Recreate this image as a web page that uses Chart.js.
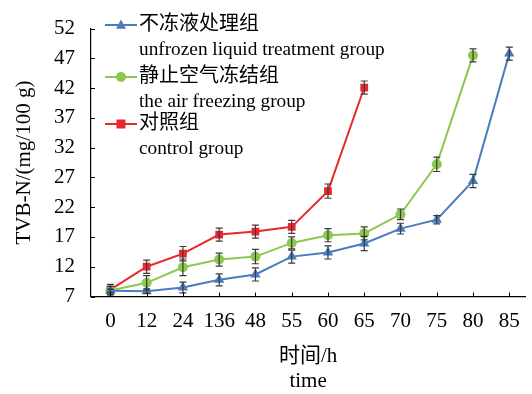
<!DOCTYPE html>
<html>
<head>
<meta charset="utf-8">
<script src="https://cdn.jsdelivr.net/npm/chart.js@4/dist/chart.umd.min.js"></script>
<style>
  html, body { margin: 0; padding: 0; background: #fff; }
  #wrap { width: 532px; height: 394px; }
</style>
</head>
<body>
<div id="wrap"><canvas id="c" width="532" height="394"></canvas></div>
<script>
// Storage time points (category labels on the x axis)
const timeLabels = ['0', '12', '24', '136', '48', '55', '60', '65', '70', '75', '80', '85'];
// Y axis tick values, TVB-N in mg/100 g
const yTicks = [7, 12, 17, 22, 27, 32, 37, 42, 47, 52];

// Anti-freeze liquid treatment
const unfrozenValues = [7.95, 7.9, 8.5, 9.8, 10.7, 13.7, 14.4, 15.9, 18.4, 19.9, 26.4, 47.8];
const unfrozenErrors = [0.3, 0.4, 0.9, 1.0, 1.1, 1.1, 1.1, 1.2, 0.9, 0.7, 1.1, 1.1];
// Still-air freezing
const airValues = [8.0, 9.3, 11.9, 13.2, 13.7, 16.0, 17.3, 17.6, 20.8, 29.2, 47.5];
const airErrors = [0.7, 1.2, 1.4, 1.1, 1.2, 1.0, 1.1, 1.1, 0.9, 1.2, 1.1];
// Control
const controlValues = [8.15, 12.0, 14.2, 17.4, 17.9, 18.7, 24.7, 42.1];
const controlErrors = [0.9, 1.1, 1.2, 1.1, 1.1, 1.1, 1.2, 1.1];

const legendCn = ['不冻液处理组', '静止空气冻结组', '对照组'];
const legendEn = ['unfrozen liquid treatment group', 'the air freezing group', 'control group'];

const BLUE = '#4a7cbd';
const GREEN = '#8cc850';
const RED = '#e8282e';
const FONT = "'Liberation Serif', 'Noto Sans CJK SC', serif";

const toPoints = vals => vals.map((v, i) => ({ x: i, y: v }));

function drawMarker(ctx, style, x, y, r, color) {
  ctx.save();
  ctx.fillStyle = color;
  ctx.beginPath();
  if (style === 'triangle') {
    ctx.moveTo(x, y - r * 1.1);
    ctx.lineTo(x + r, y + r * 0.75);
    ctx.lineTo(x - r, y + r * 0.75);
    ctx.closePath();
  } else if (style === 'rect') {
    ctx.rect(x - r * 0.9, y - r * 0.9, r * 1.8, r * 1.8);
  } else {
    ctx.arc(x, y, r, 0, Math.PI * 2);
  }
  ctx.fill();
  ctx.restore();
}

// Vertical error bars with caps, placed through the chart scales
const errorBars = {
  id: 'errorBars',
  afterDatasetsDraw(chart) {
    const { ctx, scales: { x, y } } = chart;
    ctx.save();
    ctx.strokeStyle = '#3a3a3a';
    ctx.lineWidth = 1.2;
    chart.data.datasets.forEach(ds => {
      ds.errors.forEach((e, i) => {
        const v = ds.data[i].y;
        const px = x.getPixelForValue(i);
        const top = y.getPixelForValue(v + e);
        const bot = y.getPixelForValue(v - e);
        ctx.beginPath();
        ctx.moveTo(px, top); ctx.lineTo(px, bot);
        ctx.moveTo(px - 3.5, top); ctx.lineTo(px + 3.5, top);
        ctx.moveTo(px - 3.5, bot); ctx.lineTo(px + 3.5, bot);
        ctx.stroke();
      });
    });
    ctx.restore();
  }
};

// Short tick marks pointing into the plot area
const innerTicks = {
  id: 'innerTicks',
  afterDraw(chart) {
    const { ctx, scales: { x, y } } = chart;
    ctx.save();
    ctx.strokeStyle = '#000';
    ctx.lineWidth = 1;
    timeLabels.forEach((_, i) => {
      const px = Math.round(x.getPixelForValue(i)) + 0.5;
      ctx.beginPath();
      ctx.moveTo(px, y.bottom);
      ctx.lineTo(px, y.bottom - 4);
      ctx.stroke();
    });
    yTicks.forEach(v => {
      const py = Math.round(y.getPixelForValue(v)) + 0.5;
      ctx.beginPath();
      ctx.moveTo(x.left, py);
      ctx.lineTo(x.left + 4, py);
      ctx.stroke();
    });
    ctx.restore();
  }
};

// Two-line legend (Chinese name with English name below)
const bilingualLegend = {
  id: 'bilingualLegend',
  afterDraw(chart) {
    const { ctx } = chart;
    const x0 = 105, x1 = 137, tx = 139;
    const rows = [25, 77, 124];
    ctx.save();
    ctx.textBaseline = 'middle';
    ctx.textAlign = 'left';
    ctx.fillStyle = '#000';
    chart.data.datasets.forEach((ds, k) => {
      const yy = rows[k];
      ctx.strokeStyle = ds.borderColor;
      ctx.lineWidth = 2;
      ctx.beginPath();
      ctx.moveTo(x0, yy); ctx.lineTo(x1, yy);
      ctx.stroke();
      drawMarker(ctx, ds.pointStyle, (x0 + x1) / 2, yy, 5, ds.borderColor);
      ctx.fillStyle = '#000';
      ctx.font = "20px " + FONT;
      ctx.fillText(legendCn[k], tx, yy);
      ctx.font = "19.3px " + FONT;
      ctx.fillText(legendEn[k], tx, yy + 25);
    });
    ctx.restore();
  }
};

const mkSet = (label, vals, errs, color, style, r) => ({
  label,
  data: toPoints(vals),
  errors: errs,
  borderColor: color,
  backgroundColor: color,
  borderWidth: 2,
  pointStyle: style,
  pointRadius: r,
  pointBorderWidth: 0,
  tension: 0,
  fill: false
});

new Chart(document.getElementById('c'), {
  type: 'line',
  data: {
    datasets: [
      mkSet(legendCn[0], unfrozenValues, unfrozenErrors, BLUE, 'triangle', 6),
      mkSet(legendCn[1], airValues, airErrors, GREEN, 'circle', 5),
      mkSet(legendCn[2], controlValues, controlErrors, RED, 'rect', 5.5)
    ]
  },
  options: {
    responsive: false,
    animation: false,
    devicePixelRatio: 1,
    layout: { padding: { left: 0, right: 0, top: 15.7, bottom: 0 } },
    plugins: { legend: { display: false }, tooltip: { enabled: false } },
    scales: {
      x: {
        type: 'linear',
        min: -0.535,
        max: 11.44,
        afterBuildTicks: s => { s.ticks = timeLabels.map((_, i) => ({ value: i })); },
        ticks: {
          callback: (v, i) => timeLabels[i],
          autoSkip: false,
          maxRotation: 0,
          color: '#000',
          padding: 12,
          font: { family: FONT, size: 21 }
        },
        grid: { display: false, drawTicks: false },
        border: { display: true, color: '#000', width: 1.2 },
        title: {
          display: true,
          text: ['时间/h', 'time'],
          color: '#000',
          font: { family: FONT, size: 21, lineHeight: 1.2 },
          padding: { top: 2, bottom: 0 }
        },
        afterFit: s => { s.height = 394 - 296.5; }
      },
      y: {
        min: 7,
        max: 52,
        afterBuildTicks: s => { s.ticks = yTicks.map(v => ({ value: v })); },
        ticks: {
          color: '#000',
          padding: 16,
          font: { family: FONT, size: 21 }
        },
        grid: { display: false, drawTicks: false },
        border: { display: true, color: '#000', width: 1.2 },
        title: {
          display: true,
          text: 'TVB-N/(mg/100 g)',
          color: '#000',
          font: { family: FONT, size: 21 },
          padding: { top: 12, bottom: 6 }
        },
        afterFit: s => { s.width = 91; }
      }
    }
  },
  plugins: [errorBars, innerTicks, bilingualLegend]
});
</script>
</body>
</html>
